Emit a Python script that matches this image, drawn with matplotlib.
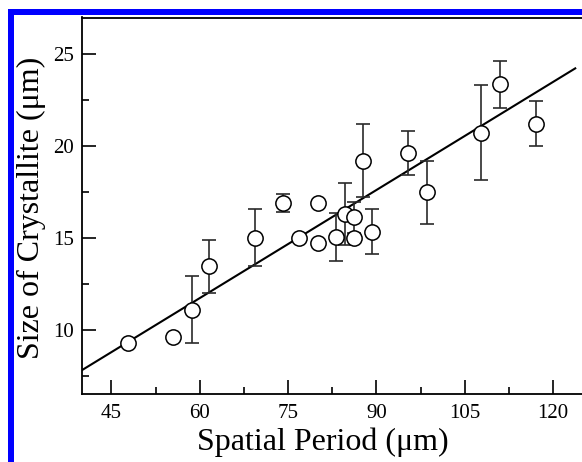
import numpy as np
import matplotlib
matplotlib.use("Agg")
import matplotlib.pyplot as plt
from matplotlib.patches import Rectangle
from matplotlib.ticker import MultipleLocator

# spatial period (um), crystallite size (um) and its error bar (0 = none drawn)
period = [47.8, 55.4, 58.6, 61.5, 69.4, 74.1, 76.9, 80.1, 80.1, 83.2,
          84.7, 86.2, 86.2, 87.7, 89.3, 95.4, 98.6, 107.8, 110.9, 117.1]
size = [9.25, 9.58, 11.10, 13.45, 15.00, 16.90, 14.98, 16.88, 14.73, 15.04,
        16.30, 16.12, 14.98, 19.20, 15.34, 19.64, 17.48, 20.73, 23.36, 21.22]
size_err = [0.0, 0.0, 1.85, 1.45, 1.55, 0.50, 0.0, 0.0, 0.0, 1.30,
            1.70, 0.85, 0.0, 2.00, 1.22, 1.20, 1.70, 2.60, 1.27, 1.22]

# linear fit, drawn between these end points
fit_x = [40.0, 123.75]
fit_y = [7.80, 24.23]

xticks = [45, 60, 75, 90, 105, 120]
yticks = [10, 15, 20, 25]

plt.rcParams['font.family'] = ['Liberation Serif', 'DejaVu Serif']

fig = plt.figure(figsize=(5.82, 4.62), dpi=100)
W, H = 582.0, 462.0
ax = fig.add_axes([82/W, (H-394)/H, 500/W, 376.5/H])

x = np.array(period)
y = np.array(size)
e = np.array(size_err)
has_err = e > 0

ax.plot(fit_x, fit_y, color='black', lw=1.5, zorder=2)
ax.errorbar(x[has_err], y[has_err], yerr=e[has_err], fmt='none',
            ecolor='#2a2a2a', elinewidth=1.2, capsize=4.8, capthick=1.2, zorder=3)
ax.plot(x, y, 'o', ms=11, mfc='white', mec='black', mew=1.1, zorder=4)

ax.set_xlim(40, 124.9)
ax.set_ylim(6.5, 27)
ax.set_xticks(xticks)
ax.set_yticks(yticks)
ax.xaxis.set_minor_locator(MultipleLocator(7.5))
ax.yaxis.set_minor_locator(MultipleLocator(2.5))
ax.tick_params(which='both', direction='in', width=1.2, labelsize=15,
               top=False, right=False)
ax.tick_params(which='major', length=10)
ax.tick_params(which='minor', length=5)
ax.tick_params(axis='x', pad=7)
ax.tick_params(axis='y', pad=6)
ax.spines['right'].set_visible(False)
for s in ['left', 'bottom', 'top']:
    ax.spines[s].set_linewidth(1.3)

ax.set_xlabel("Spatial Period (\u03bcm)", fontsize=23)
ax.set_ylabel("Size of Crystallite (\u03bcm)", fontsize=23)
ax.xaxis.label.set_va('center')
ax.xaxis.set_label_coords(0.482, -0.129)
ax.yaxis.label.set_va('center')
ax.yaxis.set_label_coords(-0.102, 0.495)

# blue frame on the left and top edges
fig.patches.append(Rectangle((8/W, 0), 6/W, (H-9)/H, transform=fig.transFigure,
                             color='#0000ff', lw=0, zorder=5))
fig.patches.append(Rectangle((8/W, (H-15)/H), (W-8)/W, 6/H, transform=fig.transFigure,
                             color='#0000ff', lw=0, zorder=5))

fig.savefig("out.png", dpi=100)
